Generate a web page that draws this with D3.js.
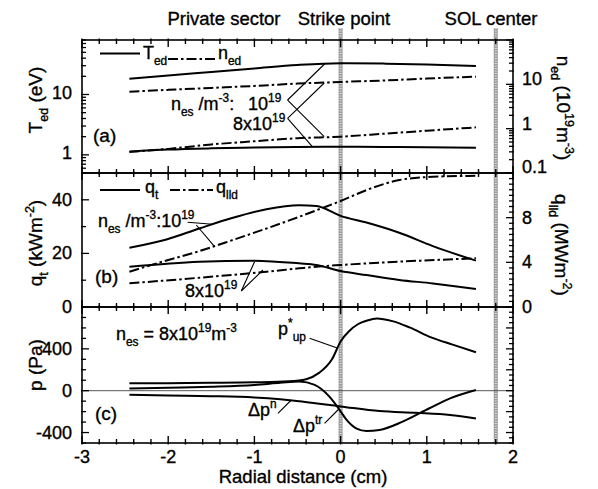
<!DOCTYPE html>
<html>
<head>
<meta charset="utf-8">
<script src="https://cdn.jsdelivr.net/npm/d3@7"></script>
<style>
  body { margin: 0; background: #fff; }
  text { font-family: "Liberation Sans", Arial, Helvetica, sans-serif; fill: #000; stroke: #000; stroke-width: 0.35px; }
</style>
</head>
<body>
<div id="chart"></div>
<script>
const width = 598
const height = 489

// panel (a): divertor temperature / density, two upstream densities
const xA = [-2.45, -2, -1.5, -1, -0.5, 0, 0.5, 1, 1.57]
const ted1e19 = [18.3, 20.6, 23.6, 27, 30.8, 33, 32.5, 31.5, 29.7]
const ted8e19 = [1.13, 1.22, 1.28, 1.32, 1.35, 1.36, 1.35, 1.33, 1.31]
const ned1e19 = [0.30, 0.35, 0.44, 0.52, 0.61, 0.66, 0.77, 0.9, 1.07]
const ned8e19 = [6.8, 7.5, 8.3, 9.2, 10.4, 11.3, 12.2, 13.5, 14.9]

// panel (b): target heat flux and parallel heat flux
const xQt1 = [-2.45, -2.02, -1.64, -1.25, -0.86, -0.48, -0.28, 0, 0.3, 0.68, 1.07, 1.57]
const qt1e19 = [22.1, 25.2, 29.3, 33.3, 36.5, 38, 37.7, 34, 31.5, 27.7, 22.7, 17.3]
const xQl1 = [-2.45, -2.05, -1.64, -1.25, -0.48, -0.22, 0, 0.3, 0.68, 1.07, 1.57]
const qlld1e19 = [3.16, 4.1, 5.0, 6.0, 8.08, 8.84, 9.49, 10.47, 11.37, 11.66, 11.75]
const xQt8 = [-2.45, -1.64, -1.02, -0.48, -0.28, 0, 0.3, 0.68, 1.07, 1.57]
const qt8e19 = [15.0, 16.9, 17.3, 16.3, 15.7, 13.4, 11.9, 10.1, 8.8, 6.7]
const xQl8 = [-2.45, -1.64, -0.86, -0.48, -0.28, 0, 0.68, 1.57]
const qlld8e19 = [2.12, 2.62, 3.16, 3.46, 3.61, 3.76, 4.06, 4.36]

// panel (c): pressures at n_es = 8x10^19
const xPup = [-2.45, -2, -1.5, -1, -0.6, -0.4, -0.25, -0.1, 0, 0.1, 0.2, 0.3, 0.42, 0.6, 0.8, 1.05, 1.3, 1.57]
const pUp = [70, 72, 75, 80, 90, 110, 170, 300, 470, 570, 635, 668, 690, 665, 605, 510, 440, 367]
const xPtr = [-2.45, -2, -1.5, -1, -0.7, -0.48, -0.3, -0.13, -0.01, 0.07, 0.18, 0.3, 0.45, 0.72, 1.03, 1.27, 1.57]
const dpTr = [20, 28, 38, 55, 75, 88, 55, -57, -185, -280, -360, -385, -376, -296, -168, -73, 7]
const xPn = [-2.45, -2, -1.5, -1, -0.7, -0.48, -0.2, 0, 0.45, 0.87, 1.27, 1.57]
const dpN = [-38, -45, -52, -65, -82, -100, -130, -150, -195, -212, -232, -265]

const markers = [0, 1.8]
const xTickLabels = [-3, -2, -1, 0, 1, 2]

const svg = d3.select("#chart")
              .append("svg")
              .attr("width", width)
              .attr("height", height)
              .style("background", "#fff")

const X0 = 82, X1 = 513
const x = d3.scaleLinear([-3, 2], [X0, X1])
const yaL = d3.scaleLog([0.5, 80], [173, 40])
const yaR = d3.scaleLog([0.1, 100], [173, 40])
const ybL = d3.scaleLinear([0, 50], [307, 173])
const ybR = d3.scaleLinear([0, 12], [307, 173])
const yc = d3.scaleLinear([-500, 800], [443, 307])

const DASHDOT = "10,3,2.5,3"

// text with sub / superscripts: parts are strings or [text, "sub"|"sup"]
function rich(sel, px, py, parts, size, anchor, rot) {
  const t = sel.append("text")
               .attr("x", px).attr("y", py)
               .attr("font-size", size)
               .attr("text-anchor", anchor || "start")
  if (rot) t.attr("transform", `rotate(${rot},${px},${py})`)
  let shift = 0
  parts.forEach(p => {
    const s = typeof p === "string" ? [p, ""] : p
    const target = s[1] == "sub" ? size * 0.34 : s[1] == "sup" ? -size * 0.42 : 0
    t.append("tspan")
     .attr("dy", target - shift)
     .attr("font-size", s[1] ? size * 0.66 : size)
     .text(s[0])
    shift = target
  })
  return t
}

function curve(xs, vs, yScale, dash) {
  const line = d3.line()
                 .x(d => x(d[0]))
                 .y(d => yScale(d[1]))
                 .curve(d3.curveMonotoneX)
  svg.append("path")
     .attr("d", line(d3.zip(xs, vs)))
     .attr("fill", "none")
     .attr("stroke", "#000")
     .attr("stroke-width", 2)
     .attr("stroke-dasharray", dash || null)
}

function pointer(x1, v1, x2, v2, yScale) {
  svg.append("line")
     .attr("x1", x(x1)).attr("y1", yScale(v1))
     .attr("x2", x(x2)).attr("y2", yScale(v2))
     .attr("stroke", "#000").attr("stroke-width", 1.1)
}

// ticks along x at a panel edge; dir = 1 points down, -1 points up
function xTicks(yEdge, dir) {
  d3.range(-3, 2.0001, 0.2).forEach(v => {
    const major = Math.abs(v - Math.round(v)) < 1e-6
    svg.append("line")
       .attr("x1", x(v)).attr("x2", x(v))
       .attr("y1", yEdge - dir * 1.5)
       .attr("y2", yEdge + dir * (major ? 7 : 4))
       .attr("stroke", "#000").attr("stroke-width", 1.4)
  })
}

function yTicks(scale, values, isMajor, side) {
  const x0 = side == "left" ? X0 : X1
  const dir = side == "left" ? 1 : -1
  values.forEach(v => {
    svg.append("line")
       .attr("x1", x0 - dir * 1).attr("x2", x0 + dir * (isMajor(v) ? 7 : 4))
       .attr("y1", scale(v)).attr("y2", scale(v))
       .attr("stroke", "#000").attr("stroke-width", 1.3)
  })
}

function yLabels(scale, values, side, fmt, dy) {
  values.forEach(v => {
    svg.append("text")
       .attr("x", side == "left" ? 72 : 522)
       .attr("y", scale(v) + 6 + (dy || 0))
       .attr("text-anchor", side == "left" ? "end" : "start")
       .attr("font-size", 18)
       .text(fmt ? fmt(v) : v)
  })
}

function logValues(lo, hi) {
  const out = []
  for (let d = 0.1; d <= 100; d *= 10)
    for (let k = 1; k <= 9; k++) {
      const v = +(k * d).toPrecision(3)
      if (v >= lo - 1e-9 && v <= hi + 1e-9) out.push(v)
    }
  return out
}
const isDecade = v => Math.abs(Math.log10(v) - Math.round(Math.log10(v))) < 1e-6

// marker lines (strike point, SOL center)
markers.forEach(m => {
  svg.append("rect")
     .attr("x", x(m) - 2).attr("y", 28)
     .attr("width", 4).attr("height", 443 - 28)
     .attr("fill", "#9a9a9a")
  svg.append("line")
     .attr("x1", x(m)).attr("x2", x(m))
     .attr("y1", 28).attr("y2", 443)
     .attr("stroke", "#e0e0e0").attr("stroke-width", 2)
     .attr("stroke-dasharray", "1,1.5")
})

// zero line in panel (c)
svg.append("line")
   .attr("x1", X0).attr("x2", X1)
   .attr("y1", yc(0)).attr("y2", yc(0))
   .attr("stroke", "#555").attr("stroke-width", 1)

// curves
curve(xA, ted1e19, yaL)
curve(xA, ted8e19, yaL)
curve(xA, ned1e19, yaR, DASHDOT)
curve(xA, ned8e19, yaR, DASHDOT)

curve(xQt1, qt1e19, ybL)
curve(xQt8, qt8e19, ybL)
curve(xQl1, qlld1e19, ybR, DASHDOT)
curve(xQl8, qlld8e19, ybR, DASHDOT)

curve(xPup, pUp, yc)
curve(xPtr, dpTr, yc)
curve(xPn, dpN, yc)

// frames
;[[40, 173], [173, 307], [307, 443]].forEach(p => {
  svg.append("rect")
     .attr("x", X0).attr("y", p[0])
     .attr("width", X1 - X0).attr("height", p[1] - p[0])
     .attr("fill", "none").attr("stroke", "#000").attr("stroke-width", 1.6)
  xTicks(p[0], 1)
  xTicks(p[1], -1)
})

// y ticks
yTicks(yaL, logValues(0.5, 80), isDecade, "left")
yTicks(yaR, logValues(0.1, 100), isDecade, "right")
yTicks(ybL, d3.range(0, 50.1, 10), v => v % 20 == 0, "left")
yTicks(ybR, d3.range(0, 12.01, 0.5), v => v % 4 == 0, "right")
yTicks(yc, d3.range(-500, 800.1, 100), v => v % 400 == 0, "left")
yTicks(yc, d3.range(-500, 800.1, 50), v => v % 200 == 0, "right")

yLabels(yaL, [1, 10], "left", null, -1.5)
yLabels(yaR, [1, 10], "right", null, -5)
yLabels(yaR, [0.1], "right", null, -6)
yLabels(ybL, [0, 20, 40], "left")
yLabels(ybR, [0, 4, 8], "right")
yLabels(yc, [-400, 0, 400], "left")

// x tick labels
xTickLabels.forEach(v => {
  svg.append("text")
     .attr("x", x(v)).attr("y", 463)
     .attr("text-anchor", "middle")
     .attr("font-size", 18)
     .text(v)
})
svg.append("text")
   .attr("x", 303).attr("y", 483)
   .attr("text-anchor", "middle")
   .attr("font-size", 18.5)
   .text("Radial distance (cm)")

// header
svg.append("text").attr("x", 224).attr("y", 25).attr("text-anchor", "middle").attr("font-size", 18.5).text("Private sector")
svg.append("text").attr("x", 344).attr("y", 25).attr("text-anchor", "middle").attr("font-size", 18.5).text("Strike point")
svg.append("text").attr("x", 491).attr("y", 25).attr("text-anchor", "middle").attr("font-size", 18.5).text("SOL center")

// axis titles
rich(svg, 42, 100, ["T", ["ed", "sub"], " (eV)"], 19, "middle", -90)
rich(svg, 42, 243, ["q", ["t", "sub"], " (kWm", ["-2", "sup"], ")"], 19, "middle", -90)
rich(svg, 42, 365, ["p (Pa)"], 19, "middle", -90)
rich(svg, 557, 108, ["n", ["ed", "sub"], " (10", ["19", "sup"], "m", ["-3", "sup"], ")"], 19, "middle", 90)
rich(svg, 555, 245, ["q", ["lld", "sub"], " (MWm", ["-2", "sup"], ")"], 19, "middle", 90)

// panel letters
svg.append("text").attr("x", 93).attr("y", 142).attr("font-size", 19).text("(a)")
svg.append("text").attr("x", 95).attr("y", 283).attr("font-size", 19).text("(b)")
svg.append("text").attr("x", 95).attr("y", 420).attr("font-size", 19).text("(c)")

// legends
function legendLine(x1, x2, yy, dash) {
  svg.append("line")
     .attr("x1", x1).attr("x2", x2).attr("y1", yy).attr("y2", yy)
     .attr("stroke", "#000").attr("stroke-width", 2)
     .attr("stroke-dasharray", dash || null)
}
legendLine(100, 140, 53.5)
rich(svg, 143, 59, ["T", ["ed", "sub"]], 18)
legendLine(168, 215, 59, DASHDOT)
rich(svg, 218, 59, ["n", ["ed", "sub"]], 18)

legendLine(100, 140, 190)
rich(svg, 145, 193, ["q", ["t", "sub"]], 18)
legendLine(170, 213, 190, DASHDOT)
rich(svg, 216, 193, ["q", ["lld", "sub"]], 18)

// panel (a) annotations
rich(svg, 171, 110, ["n", ["es", "sub"], " /m", ["-3", "sup"], ":"], 18)
rich(svg, 248, 110, ["10", ["19", "sup"]], 18)
rich(svg, 233, 130, ["8x10", ["19", "sup"]], 18)
pointer(-0.615, 8.1, -0.186, 32, yaL)
pointer(-0.615, 8.1, -0.19, 2.0, yaL)
pointer(-0.615, 4.03, -0.19, 15.5, yaL)
pointer(-0.615, 4.03, -0.325, 1.36, yaL)

// panel (b) annotations
rich(svg, 98, 227, ["n", ["es", "sub"], " /m", ["-3", "sup"], ":10", ["19", "sup"]], 18)
rich(svg, 185, 297, ["8x10", ["19", "sup"]], 18)
pointer(-1.775, 31.6, -1.485, 30.9, ybL)
pointer(-1.674, 30.6, -1.462, 22.5, ybL)
pointer(-1.152, 5.97, -0.998, 16.9, ybL)
pointer(-1.152, 5.97, -0.901, 13.8, ybL)

// panel (c) annotations
rich(svg, 116, 340, ["n", ["es", "sub"], " = 8x10", ["19", "sup"], "m", ["-3", "sup"]], 18)
rich(svg, 278, 335, ["p", ["*", "sup"], ["up", "sub"]], 18)
rich(svg, 248, 416, ["\u0394p", ["n", "sup"]], 18)
rich(svg, 293, 432, ["\u0394p", ["tr", "sup"]], 18)
pointer(-0.36, 501, -0.031, 405, yc)
pointer(-0.727, -216, -0.572, -89, yc)
pointer(-0.186, -312, -0.02, -175, yc)
</script>
</body>
</html>
